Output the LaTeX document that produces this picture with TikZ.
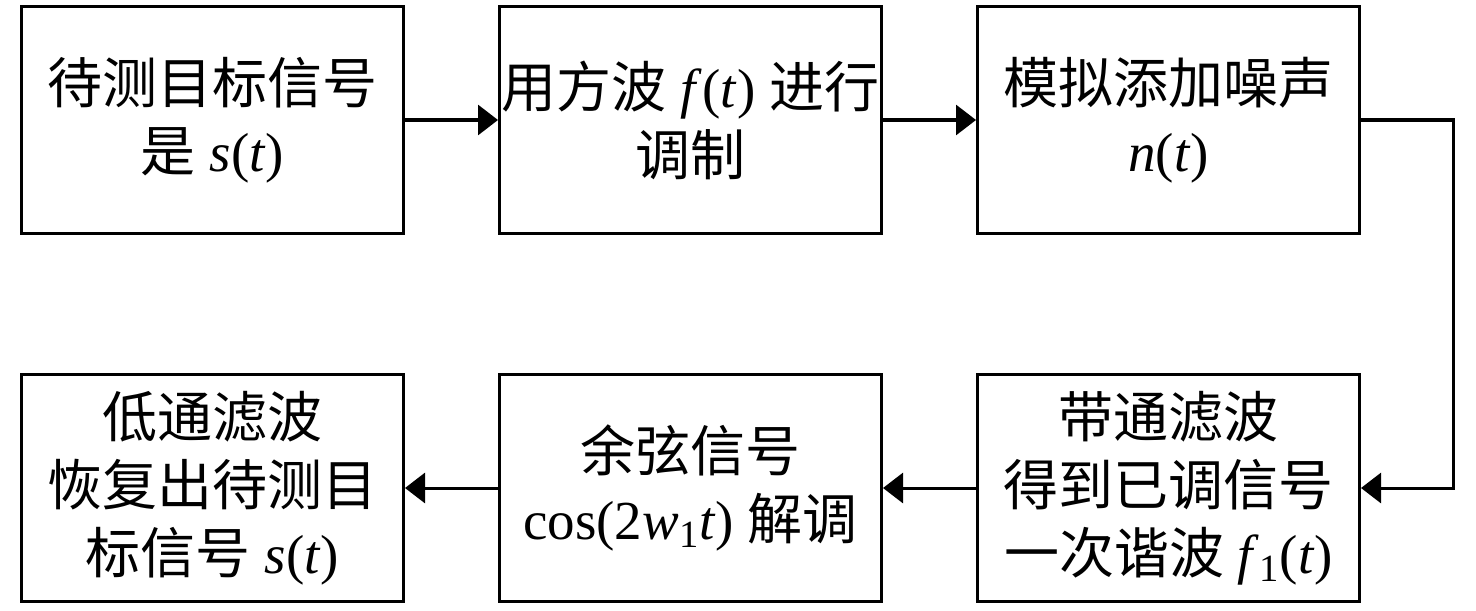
\documentclass[tikz,border=0pt]{standalone}
\usepackage{fontspec}
\setmainfont{Liberation Serif}
\newfontfamily\cjk{Noto Sans CJK SC}
\usetikzlibrary{positioning,arrows.meta}
\tikzset{
  block/.style={rectangle,draw,line width=1.5pt,
    minimum width=191pt,minimum height=113.5pt,
    inner sep=0pt,align=center,
    font=\fontsize{27.5}{34}\selectfont},
  flow/.style={-{Triangle[length=10pt,width=15pt]},line width=1.5pt},
  node distance=69pt and 46.5pt
}
\newcommand{\vt}[1]{\textit{#1}}

\begin{document}
\begin{tikzpicture}[x=0.5pt,y=-0.5pt]
  \useasboundingbox (0,0) rectangle (1476,610);
  % top row
  \node[block,anchor=north west] (target) at (20,5)
    {{\cjk 待测目标信号}\\{\cjk 是} \vt{s}(\vt{t})};
  \node[block,right=of target] (modul)
    {{\cjk 用方波} \vt{f}(\vt{t}) {\cjk 进行}\\{\cjk 调制}};
  \node[block,right=of modul] (noise)
    {{\cjk 模拟添加噪声}\\\vt{n}(\vt{t})};
  % bottom row
  \node[block,below=of noise] (bandpass)
    {{\cjk 带通滤波}\\{\cjk 得到已调信号}\\{\cjk 一次谐波} \vt{f}\textsubscript{1}(\vt{t})};
  \node[block,left=of bandpass] (demod)
    {{\cjk 余弦信号}\\cos(2\vt{w}\textsubscript{1}\vt{t}) {\cjk 解调}};
  \node[block,left=of demod] (lowpass)
    {{\cjk 低通滤波}\\{\cjk 恢复出待测目}\\{\cjk 标信号} \vt{s}(\vt{t})};
  % connectors
  \draw[flow] (target) -- (modul);
  \draw[flow] (modul) -- (noise);
  \draw[flow] (noise.east) -- ++(46pt,0) |- (bandpass.east);
  \draw[flow] (bandpass) -- (demod);
  \draw[flow] (demod) -- (lowpass);
\end{tikzpicture}
\end{document}
